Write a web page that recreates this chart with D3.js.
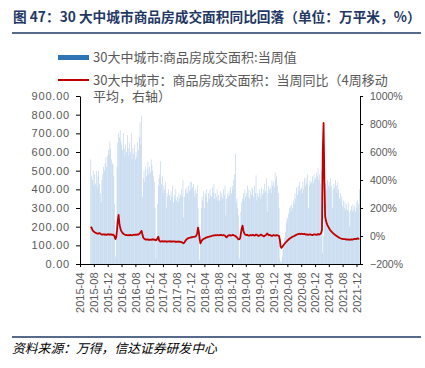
<!DOCTYPE html>
<html lang="zh">
<head>
<meta charset="utf-8">
<title>30大中城市商品房成交面积</title>
<script src="https://cdn.jsdelivr.net/npm/d3@7"></script>
<style>
    body { margin: 0; background: #fff; }
    svg { display: block; }
</style>
</head>
<body>
<svg id="chart"></svg>
<script>
    // 当周值（万平米），每行一个月
    const area2015 = [560, 470, 450, 500,
        420, 480, 430, 500, 410,
        470, 500, 430, 380,
        330, 450, 480, 520,
        500, 540, 570, 520, 580,
        610, 590, 655, 620];
    const area2016 = [560, 540, 530, 470, 320,
        40, 180, 520, 650,
        700, 680, 718, 660,
        640, 610, 700, 620,
        580, 640, 600, 690, 620,
        580, 650, 600, 700,
        560, 620, 590, 640, 560,
        600, 570, 650, 610,
        680, 760, 640, 795,
        360, 460, 500, 440, 520,
        470, 510, 548, 480,
        520, 490, 560, 530];
    const area2017 = [500, 470, 440, 300, 30,
        120, 320, 420, 460,
        480, 550, 430, 470,
        380, 420, 400, 440, 300,
        380, 360, 400, 370,
        340, 390, 360, 420,
        330, 370, 350, 400, 340,
        360, 330, 380, 350,
        370, 400, 360, 450,
        250, 360, 400, 380, 410,
        380, 420, 390, 440,
        400, 440, 410, 430, 390];
    const area2018 = [360, 400, 380, 420,
        300, 200, 20, 150,
        300, 360, 340, 390,
        300, 380, 360, 400, 330,
        380, 350, 400, 370,
        360, 410, 380, 430,
        350, 380, 360, 400, 340,
        370, 340, 390, 360,
        380, 350, 400, 370, 420,
        260, 350, 380, 360,
        390, 370, 410, 380,
        420, 400, 450, 480, 590];
    const area2019 = [330, 350, 300, 260,
        30, 140, 280, 330,
        350, 380, 340, 400, 360,
        380, 420, 360, 400,
        350, 390, 370, 410,
        400, 360, 420, 380, 475,
        340, 380, 360, 400,
        380, 350, 410, 370,
        400, 380, 430, 390, 460,
        280, 380, 420, 400,
        410, 380, 450, 420,
        440, 410, 490, 450, 470];
    const area2020 = [420, 380, 300, 30,
        10, 15, 40, 80,
        100, 140, 170, 220, 250,
        240, 270, 300, 310,
        280, 320, 300, 340, 320,
        380, 350, 410, 370,
        420, 390, 440, 400,
        410, 380, 440, 400, 460,
        420, 460, 430, 480,
        300, 420, 450, 430,
        440, 470, 430, 480, 450,
        460, 490, 470, 515];
    const area2021 = [450, 480, 430, 500, 380,
        60, 150, 400, 430,
        430, 400, 450, 420,
        440, 410, 460, 420,
        300, 400, 430, 410, 450,
        420, 380, 440, 400,
        350, 380, 340, 360,
        310, 340, 300, 330, 290,
        320, 290, 330, 280,
        200, 290, 310, 280, 320,
        290, 310, 280, 330,
        300, 340, 320, 400];

    // 当周同比（4周移动平均，%）
    const yoy2015 = [66, 58, 45, 36,
        31, 27, 24, 20, 18,
        16, 19, 21, 17,
        13, 10, 12, 11,
        9, 12, 10, 8, 11,
        13, 10, 12, 9];
    const yoy2016 = [11, 8, 10, 6, -5,
        -22, -8, 40, 110,
        150, 90, 60, 40,
        30, 22, 16, 12,
        9, 7, 8, 6, 5,
        7, 5, 8, 6,
        5, 7, 9, 8, 10,
        8, 10, 12, 10,
        14, 22, 30, 36,
        10, -10, -18, -22, -25,
        -24, -26, -25, -28,
        -26, -27, -25, -28];
    const yoy2017 = [-22, -25, -28, -26, -30,
        -25, -15, -5, -30,
        -38, -40, -38, -36,
        -38, -40, -37, -39, -41,
        -38, -40, -39, -37,
        -40, -38, -41, -39,
        -38, -40, -39, -42, -40,
        -41, -39, -42, -40,
        -42, -44, -46, -50,
        -52, -45, -35, -28, -22,
        -18, -15, -13, -12,
        -10, -9, -8, -7, -6];
    const yoy2018 = [-5, -3, 5, 20,
        60, 30, -20, -52,
        -40, -30, -25, -20,
        -18, -15, -12, -10, -8,
        -6, -5, -3, -2,
        0, 2, 3, 5,
        4, 6, 5, 7, 6,
        5, 7, 6, 8,
        6, 5, 7, 4, 2,
        -5, -10, -2, 4,
        4, 6, 3, 5,
        6, 8, 5, 3, 0];
    const yoy2019 = [-5, -10, -18, -24,
        -22, -15, 20, 55,
        74, 40, 22, 12, 8,
        6, 8, 5, 3,
        5, 7, 4, 6,
        8, 5, 3, 6, 10,
        8, 5, 0, 2,
        6, 10, 8, 4,
        0, -3, 2, 6, 10,
        18, 12, 5, 8,
        6, 3, 0, 4,
        7, 5, 2, 4, 6];
    const yoy2020 = [5, 3, 0, -30,
        -76, -85, -78, -70,
        -62, -55, -48, -42, -36,
        -30, -25, -20, -16,
        -12, -8, -5, -2, 0,
        3, 6, 9, 12,
        14, 15, 16, 14,
        15, 16, 14, 13, 15,
        12, 10, 12, 9,
        8, 11, 12, 10,
        8, 6, 9, 11, 12,
        10, 8, 10, 14];
    const yoy2021 = [10, 12, 15, 22, 45,
        600, 807, 400, 138,
        110, 90, 75, 65,
        55, 45, 38, 32,
        26, 20, 15, 10, 6,
        2, -2, -6, -10,
        -13, -16, -18, -20,
        -21, -22, -23, -22, -24,
        -25, -24, -26, -25,
        -27, -25, -24, -26, -25,
        -23, -21, -20, -22,
        -19, -17, -20, -18];

    const tickMonths = ["2015-04", "2015-08", "2015-12", "2016-04", "2016-08", "2016-12",
        "2017-04", "2017-08", "2017-12", "2018-04", "2018-08", "2018-12",
        "2019-04", "2019-08", "2019-12", "2020-04", "2020-08", "2020-12",
        "2021-04", "2021-08", "2021-12"];
    const leftTicks = [0, 100, 200, 300, 400, 500, 600, 700, 800, 900];
    const rightTicks = [-200, 0, 200, 400, 600, 800, 1000];

    const areaValues = [].concat(area2015, area2016, area2017, area2018, area2019, area2020, area2021);
    const yoyValues = [].concat(yoy2015, yoy2016, yoy2017, yoy2018, yoy2019, yoy2020, yoy2021);
    const weeks = d3.timeWeek.range(new Date(2015, 6, 5), new Date(2022, 0, 1));
    const data = weeks.map((d, i) => ({date: d, area: areaValues[i], yoy: yoyValues[i]}))
        .filter(d => d.area !== undefined && d.yoy !== undefined);

    const svgSize = {width: 425, height: 368};
    const plot = {left: 80, right: 360, top: 96, bottom: 264};
    const cjk = '"Noto Sans CJK SC", sans-serif';
    const latin = '"Liberation Sans", Arial, sans-serif';
    const navy = "#1f3864";
    const grey = "#595959";

    const svg = d3.select("#chart").attr("width", svgSize.width).attr("height", svgSize.height);

    // title
    const title = svg.append("text")
        .attr("x", 13).attr("y", 22)
        .attr("font-family", cjk).attr("font-weight", 700).attr("font-size", 14)
        .attr("fill", navy)
        .text("图 47：30 大中城市商品房成交面积同比回落（单位：万平米，%）");
    const tw = title.node().getComputedTextLength();
    title.attr("font-size", 14 * 408 / tw);

    svg.append("line").attr("x1", 12).attr("x2", 421).attr("y1", 33).attr("y2", 33)
        .attr("stroke", navy).attr("stroke-width", 1.5);
    svg.append("line").attr("x1", 12).attr("x2", 421).attr("y1", 337).attr("y2", 337)
        .attr("stroke", navy).attr("stroke-width", 1.5);

    // legend
    svg.append("rect").attr("x", 58).attr("y", 55).attr("width", 31).attr("height", 5).attr("fill", "#2e75b6");
    svg.append("line").attr("x1", 58).attr("x2", 89).attr("y1", 80).attr("y2", 80)
        .attr("stroke", "#c00000").attr("stroke-width", 2);
    const legend = svg.append("g").attr("font-family", cjk).attr("font-size", 13).attr("fill", grey);
    legend.append("text").attr("x", 93).attr("y", 62).text("30大中城市:商品房成交面积:当周值");
    const wrapped = legend.append("text").attr("x", 93).attr("y", 85);
    wrapped.append("tspan").attr("x", 93).text("30大中城市：商品房成交面积：当周同比（4周移动");
    wrapped.append("tspan").attr("x", 93).attr("dy", 16).text("平均，右轴）");

    // scales
    const x = d3.scaleTime()
        .domain([new Date(2015, 3, 1), new Date(2022, 0, 1)])
        .range([plot.left, plot.right]);
    const yLeft = d3.scaleLinear().domain([0, 900]).range([plot.bottom, plot.top]);
    const yRight = d3.scaleLinear().domain([-200, 1000]).range([plot.bottom, plot.top]);

    const step = x(new Date(2016, 0, 8)) - x(new Date(2016, 0, 1));

    // bars
    svg.append("g")
        .attr("fill", "#9fc2e5")
        .attr("fill-opacity", 0.8)
        .selectAll("rect")
        .data(data)
        .join("rect")
        .attr("x", d => x(d.date) - step * 0.35)
        .attr("y", d => yLeft(d.area))
        .attr("width", step * 0.7)
        .attr("height", d => plot.bottom - yLeft(d.area));

    // line
    svg.append("path")
        .datum(data)
        .attr("fill", "none")
        .attr("stroke", "#c00000")
        .attr("stroke-width", 1.8)
        .attr("stroke-linejoin", "round")
        .attr("d", d3.line().x(d => x(d.date)).y(d => yRight(d.yoy)));

    // axes
    const parseMonth = d3.timeParse("%Y-%m");
    const xAxis = d3.axisBottom(x)
        .tickValues(tickMonths.map(parseMonth))
        .tickFormat(d3.timeFormat("%Y-%m"))
        .tickSize(3).tickSizeOuter(0);
    const gx = svg.append("g").attr("transform", `translate(0,${plot.bottom})`).call(xAxis);
    gx.selectAll("text")
        .attr("font-family", latin).attr("font-size", 11).attr("fill", grey)
        .attr("text-anchor", "end")
        .attr("transform", "rotate(-90)")
        .attr("x", -8.5).attr("y", 0).attr("dy", "0.35em");

    const gl = svg.append("g").attr("transform", `translate(${plot.left},0)`)
        .call(d3.axisLeft(yLeft).tickValues(leftTicks).tickFormat(d3.format(".2f")).tickSize(4).tickSizeOuter(0));
    gl.selectAll("text")
        .attr("font-family", latin).attr("font-size", 11).attr("fill", grey)
        .attr("letter-spacing", 0.8).attr("x", -10);

    const gr = svg.append("g").attr("transform", `translate(${plot.right},0)`)
        .call(d3.axisRight(yRight).tickValues(rightTicks).tickFormat(d => d3.format("d")(d) + "%").tickSize(3).tickSizeOuter(0));
    gr.selectAll("text")
        .attr("font-family", latin).attr("font-size", 10.5).attr("fill", grey).attr("x", 10);

    [gx, gl, gr].forEach(g => {
        g.select(".domain").attr("stroke", "#000");
        g.selectAll(".tick line").attr("stroke", "#000");
    });

    // source
    svg.append("text")
        .attr("x", 12).attr("y", 353)
        .attr("font-family", cjk).attr("font-size", 12.8).attr("font-style", "italic")
        .attr("fill", "#000")
        .text("资料来源：万得，信达证券研发中心");
</script>
</body>
</html>
